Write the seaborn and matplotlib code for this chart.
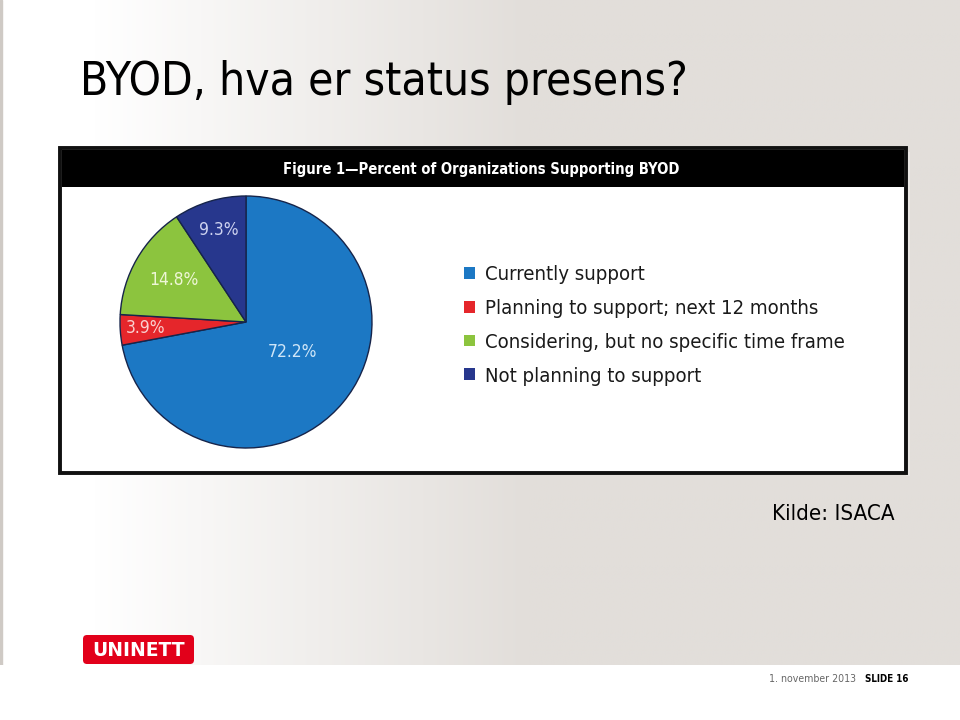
import numpy as np
import matplotlib
matplotlib.use("Agg")
import matplotlib.pyplot as plt
import seaborn as sns
from matplotlib.patches import Rectangle, FancyBboxPatch, Patch

sns.set_theme(style="white")
plt.rcParams['font.family'] = ['DejaVu Sans']

# ---- data ----
categories = ["Currently support", "Planning to support; next 12 months",
              "Considering, but no specific time frame", "Not planning to support"]
percent = [72.2, 3.9, 14.8, 9.3]
pct_labels = ["72.2%", "3.9%", "14.8%", "9.3%"]
slice_colors = ["#1c78c4", "#e5262b", "#8cc43e", "#27378d"]
label_colors = ["#cfe6f8", "#f9d0cf", "#eef6d6", "#cdd2f0"]
label_dist = [0.45, 0.80, 0.66, 0.76]

title = "BYOD, hva er status presens?"
fig_title = "Figure 1\u2014Percent of Organizations Supporting BYOD"
source = "Kilde: ISACA"
date_txt = "1. november 2013"
slide_txt = "SLIDE 16"
logo_txt = "UNINETT"

W, H = 960, 720
fig = plt.figure(figsize=(9.6, 7.2), dpi=100)
fig.patch.set_facecolor("white")

def fx(px):
    return px / W

def fy(py):
    return 1 - py / H

COND = dict(family=["DejaVu Sans"], fontstretch="condensed")

# background gradient (slide)
bg = fig.add_axes([0, fy(665), 1, 665 / H])
bg.set_axis_off()
xs = np.linspace(0, 1, 400)
t = np.clip((xs - 0.10) / 0.45, 0, 1)
c0 = np.array([1.0, 1.0, 1.0])
c1 = np.array([0xe2, 0xde, 0xda]) / 255
row = (1 - t)[:, None] * c0 + t[:, None] * c1
img = np.tile(row[None, :, :], (10, 1, 1))
bg.imshow(img, aspect="auto", extent=[0, 1, 0, 1])
bg.set_xlim(0, 1)
bg.set_ylim(0, 1)
bg.add_patch(Rectangle((0, 0), 2 / W, 1, color="#cfcac5", transform=bg.transAxes))

# chart box
box = fig.add_axes([0, 0, 1, 1], zorder=2)
box.set_axis_off()
box.set_xlim(0, W)
box.set_ylim(H, 0)
box.add_patch(Rectangle((906, 152), 4, 324, facecolor="#ebe8e5", edgecolor="none"))
box.add_patch(Rectangle((60, 148), 846, 325, facecolor="white", edgecolor="#111111", lw=2.8))
box.add_patch(Rectangle((62, 150), 842, 37, facecolor="black", edgecolor="none"))
box.text(481, 169.5, fig_title, color="white", fontsize=10.6, fontweight="bold",
         ha="center", va="center", **COND)

# pie
cx, cy, r = 246, 322, 126
pax = fig.add_axes([fx(cx - r), fy(cy + r), 2 * r / W, 2 * r / H], zorder=3)
wedges, _ = pax.pie(percent, colors=slice_colors, startangle=90, counterclock=False,
                    radius=1.0, wedgeprops=dict(edgecolor="#16244a", linewidth=1.0))
pax.set_xlim(-1, 1)
pax.set_ylim(-1, 1)
pax.set_aspect("auto")
for w, lab, col, d in zip(wedges, pct_labels, label_colors, label_dist):
    ang = np.deg2rad((w.theta1 + w.theta2) / 2)
    x, y = d * np.cos(ang), d * np.sin(ang)
    if lab == "72.2%":
        x, y = x + 0.02, y + 0.05
    pax.text(x, y, lab, color=col, fontsize=12.5, ha="center", va="center", **COND)

# legend
handles = [Patch(facecolor=c, edgecolor="none") for c in slice_colors]
leg = fig.legend(handles, categories, loc="upper left",
                 bbox_to_anchor=(fx(456), fy(257)), frameon=False,
                 prop=dict(family="DejaVu Sans", stretch="condensed", size=14.6),
                 handlelength=0.52, handleheight=0.52, handletextpad=0.5,
                 labelspacing=0.73, borderaxespad=0)
for txt in leg.get_texts():
    txt.set_color("#1a1a1a")
leg.set_zorder(4)

# slide texts
fig.text(fx(80), fy(95), title, fontsize=33, color="black",
         ha="left", va="baseline", **COND)
fig.text(fx(895), fy(520), source, fontsize=16, color="black",
         ha="right", va="baseline", **COND)

# footer
logo = fig.add_axes([0, 0, 1, 1], zorder=2)
logo.set_axis_off()
logo.set_xlim(0, W)
logo.set_ylim(H, 0)
logo.add_patch(FancyBboxPatch((83, 635), 111, 29, boxstyle="round,pad=0,rounding_size=4",
                              facecolor="#e2001a", edgecolor="none"))
logo.text(138.5, 651, logo_txt, color="white", fontsize=13.5, fontweight="bold",
          ha="center", va="center", family=["DejaVu Sans"])
logo.text(856, 682, date_txt, color="#666666", fontsize=7.6,
          ha="right", va="baseline", **COND)
logo.text(865, 682, slide_txt, color="black", fontsize=7.0, fontweight="bold",
          ha="left", va="baseline", **COND)

fig.savefig("out.png", dpi=100)
